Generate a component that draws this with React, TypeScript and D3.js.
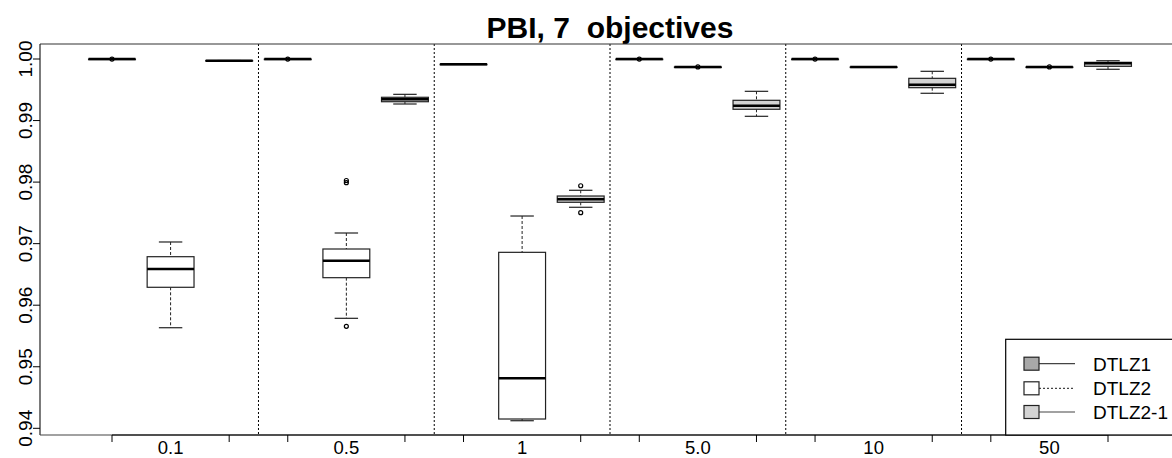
import React from "react";
import * as d3 from "d3";

const groups = ["0.1", "0.5", "1", "5.0", "10", "50"];
const seriesNames = ["DTLZ1", "DTLZ2", "DTLZ2-1"];
const seriesFill = ["#a8a8a8", "#ffffff", "#d3d3d3"];
const yTicks = [0.94, 0.95, 0.96, 0.97, 0.98, 0.99, 1.0];

// DTLZ1
const d1Lo = [0.99998, 0.99998, 0.99912, 0.99998, 0.99998, 0.99998];
const d1Q1 = [0.99998, 0.99998, 0.99913, 0.99998, 0.99998, 0.99998];
const d1Med = [0.99998, 0.99998, 0.99914, 0.99998, 0.99998, 0.99998];
const d1Q3 = [0.99998, 0.99998, 0.99915, 0.99998, 0.99998, 0.99998];
const d1Hi = [0.99998, 0.99998, 0.99916, 0.99998, 0.99998, 0.99998];
const d1Out = [[0.99999], [0.99999], [], [0.99999], [0.99999], [0.99999]];

// DTLZ2
const d2Lo = [0.95634, 0.95787, 0.94123, 0.9987, 0.9987, 0.9987];
const d2Q1 = [0.96291, 0.96447, 0.94151, 0.9987, 0.9987, 0.9987];
const d2Med = [0.96588, 0.96723, 0.94812, 0.9987, 0.9987, 0.9987];
const d2Q3 = [0.96788, 0.96913, 0.96859, 0.9987, 0.9987, 0.9987];
const d2Hi = [0.97027, 0.97173, 0.97449, 0.9987, 0.9987, 0.9987];
const d2Out = [[], [0.95657, 0.9799, 0.98026], [], [0.99871], [], [0.99871]];

// DTLZ2-1
const d3Lo = [0.99969, 0.99269, 0.97591, 0.99069, 0.99443, 0.99833];
const d3Q1 = [0.99969, 0.99306, 0.97672, 0.99183, 0.99534, 0.99881];
const d3Med = [0.99972, 0.99345, 0.97721, 0.99241, 0.99582, 0.9993];
const d3Q3 = [0.99975, 0.99378, 0.97774, 0.99329, 0.99686, 0.99946];
const d3Hi = [0.99975, 0.99426, 0.97867, 0.99475, 0.998, 0.99972];
const d3Out = [[], [], [0.97941, 0.97503], [], [], []];

const seriesStats = [
  { lo: d1Lo, q1: d1Q1, med: d1Med, q3: d1Q3, hi: d1Hi, out: d1Out },
  { lo: d2Lo, q1: d2Q1, med: d2Med, q3: d2Q3, hi: d2Hi, out: d2Out },
  { lo: d3Lo, q1: d3Q1, med: d3Med, q3: d3Q3, hi: d3Hi, out: d3Out },
];

const W = 1172;
const H = 458;
const plotLeft = 40;
const plotRight = 1180;
const plotTop = 44;
const plotBottom = 435;
const FONT = "'Liberation Sans', Arial, Helvetica, sans-serif";

export default function App() {
  const nS = seriesNames.length;
  const nPos = groups.length * nS;
  const x = d3.scaleLinear().domain([1, nPos]).range([112, 1108]);
  const y = d3.scaleLinear().domain([0.94, 1.0]).range([428.3, 59]);
  const unit = x(2) - x(1);
  const boxW = unit * 0.8;
  const capW = boxW * 0.5;

  const boxes: any[] = [];
  groups.forEach((g, gi) => {
    seriesStats.forEach((s, si) => {
      const pos = gi * nS + si + 1;
      boxes.push({ key: `${gi}-${si}`, cx: x(pos), si, lo: s.lo[gi], q1: s.q1[gi], med: s.med[gi], q3: s.q3[gi], hi: s.hi[gi], out: s.out[gi] });
    });
  });

  const dividers = d3.range(1, groups.length).map((i) => x(i * nS + 0.5));
  const xTickPos: number[] = [];
  groups.forEach((g, gi) => {
    xTickPos.push(gi * nS + 1);
    xTickPos.push(gi * nS + nS);
  });

  const legX = 1005.7;
  const legY = 339.3;
  const legRows = [363.7, 388.3, 412];

  return (
    <svg width={W} height={H} style={{ position: "absolute", left: 0, top: 0 }} fontFamily={FONT}>
      <rect x={0} y={0} width={W} height={H} fill="#fff" />
      <text x={(plotLeft + plotRight) / 2} y={38} textAnchor="middle" fontSize={30} fontWeight="bold" style={{ whiteSpace: "pre" }}>
        {"PBI, 7  objectives"}
      </text>

      {dividers.map((dx, i) => (
        <line key={"dv" + i} x1={dx} x2={dx} y1={plotTop} y2={plotBottom} stroke="#000" strokeWidth={1} strokeDasharray="2,2" />
      ))}

      {boxes.map((b) => {
        const fill = seriesFill[b.si];
        return (
          <g key={b.key}>
            <line x1={b.cx} x2={b.cx} y1={y(b.hi)} y2={y(b.q3)} stroke="#222" strokeWidth={1} strokeDasharray="3,2" />
            <line x1={b.cx} x2={b.cx} y1={y(b.q1)} y2={y(b.lo)} stroke="#222" strokeWidth={1} strokeDasharray="3,2" />
            <line x1={b.cx - capW / 2} x2={b.cx + capW / 2} y1={y(b.hi)} y2={y(b.hi)} stroke="#222" strokeWidth={1.2} />
            <line x1={b.cx - capW / 2} x2={b.cx + capW / 2} y1={y(b.lo)} y2={y(b.lo)} stroke="#222" strokeWidth={1.2} />
            <rect x={b.cx - boxW / 2} y={y(b.q3)} width={boxW} height={Math.max(0.5, y(b.q1) - y(b.q3))} fill={fill} stroke="#222" strokeWidth={1.2} />
            <line x1={b.cx - boxW / 2} x2={b.cx + boxW / 2} y1={y(b.med)} y2={y(b.med)} stroke="#000" strokeWidth={2.5} />
            {b.out.map((o: number, oi: number) => (
              <circle key={oi} cx={b.cx} cy={y(o)} r={2} fill="none" stroke="#000" strokeWidth={1.2} />
            ))}
          </g>
        );
      })}

      {/* plot frame */}
      <line x1={plotLeft} x2={plotRight} y1={plotTop} y2={plotTop} stroke="#333" strokeWidth={1.2} />
      <line x1={plotLeft} x2={plotLeft} y1={plotTop} y2={plotBottom} stroke="#222" strokeWidth={1.2} />
      <line x1={plotLeft} x2={plotRight} y1={plotBottom} y2={plotBottom} stroke="#444" strokeWidth={1.2} />
      <line x1={x(1)} x2={x(nPos)} y1={plotBottom} y2={plotBottom} stroke="#000" strokeWidth={1.2} />

      {/* y axis */}
      {yTicks.map((t) => (
        <g key={"yt" + t}>
          <line x1={33} x2={plotLeft} y1={y(t)} y2={y(t)} stroke="#000" strokeWidth={1} />
          <text transform={`translate(32,${y(t)}) rotate(-90)`} textAnchor="middle" fontSize={19}>
            {d3.format(".2f")(t)}
          </text>
        </g>
      ))}

      {/* x axis */}
      {xTickPos.map((p) => (
        <line key={"xt" + p} x1={x(p)} x2={x(p)} y1={plotBottom} y2={plotBottom + 7} stroke="#000" strokeWidth={1} />
      ))}
      {groups.map((g, gi) => (
        <text key={"xl" + gi} x={x(gi * nS + 2)} y={454} textAnchor="middle" fontSize={18.5}>
          {g}
        </text>
      ))}

      {/* legend */}
      <rect x={legX} y={legY} width={W} height={plotBottom - legY} fill="#fff" stroke="#000" strokeWidth={1.2} />
      {seriesNames.map((n, i) => (
        <g key={"lg" + i}>
          <line x1={1039} x2={1075} y1={legRows[i]} y2={legRows[i]} stroke="#444" strokeWidth={1.2} strokeDasharray={i === 1 ? "2,2" : undefined} />
          <rect x={1024} y={legRows[i] - 6.5} width={15} height={13} fill={seriesFill[i]} stroke="#222" strokeWidth={1.2} />
          <text x={1093} y={legRows[i] + 7} fontSize={19}>
            {n}
          </text>
        </g>
      ))}
    </svg>
  );
}
